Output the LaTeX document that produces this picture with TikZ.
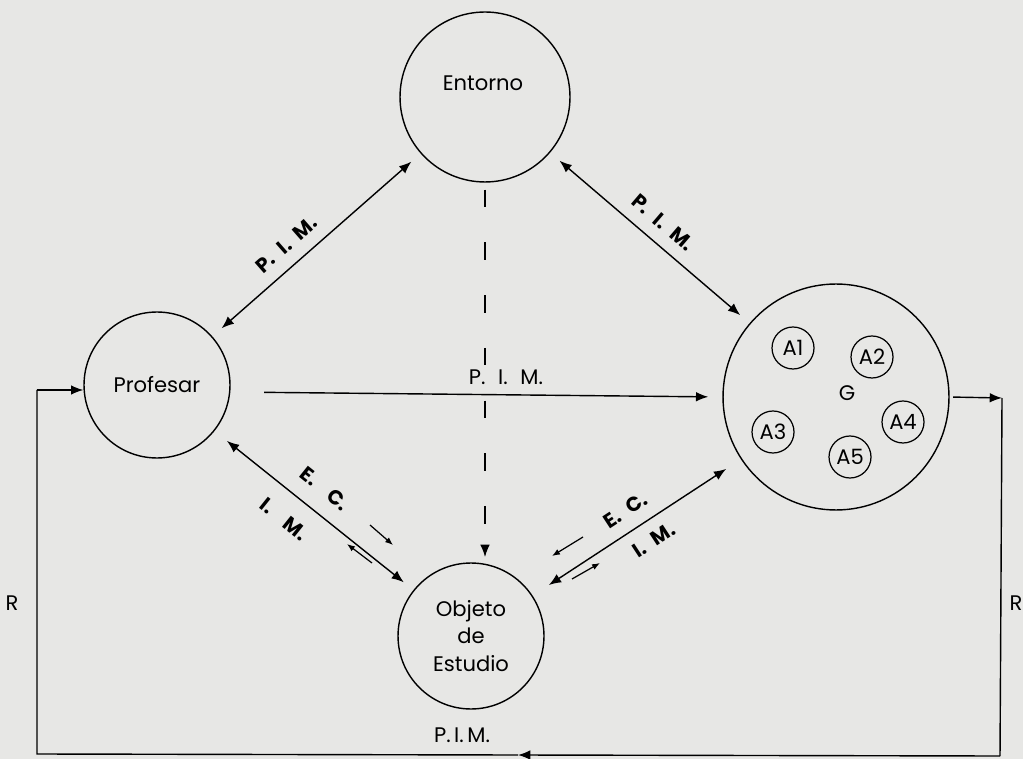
\documentclass[tikz,border=0pt]{standalone}
\usepackage{fontspec}
\setmainfont{Poppins}
\usetikzlibrary{arrows.meta, calc}
\definecolor{papel}{RGB}{231,231,229}
\tikzset{%
    circ/.style={circle, draw, line width=0.8pt, minimum size=2.92cm, inner sep=0pt, align=center},
    sub/.style={circle, draw, line width=0.7pt, minimum size=0.84cm, inner sep=0pt},
    pri/.style={line width=0.8pt},
    pria/.style={line width=0.8pt, -{Latex[length=7pt,width=5.5pt]}},
    prida/.style={line width=0.8pt, {Latex[length=7pt,width=5.5pt]}-{Latex[length=7pt,width=5.5pt]}},
    seca/.style={line width=0.7pt, -{Latex[length=4.5pt,width=3.5pt]}},
    blo/.style={font=\bfseries\fontsize{11.5}{13}\selectfont, inner sep=2pt},
}

\begin{document}
\begin{tikzpicture}[x=0.02cm, y=0.02cm, font=\fontsize{12}{15.6}\selectfont]
    \fill[papel] (0,0) rectangle (1023,-759);
    \useasboundingbox (0,0) rectangle (1023,-759);
    \node[circ, minimum size=3.4cm] (ent) at (485,-97) {};
    \node (entl) at (483,-83) {Entorno};
    \node[circ] (prof) at (157,-385) {Profesar};
    \node[circ] (obj) at (471,-636) {Objeto\\de\\Estudio};
    \node[circ, minimum size=4.52cm] (grupo) at (836,-397) {};
    \node (gl) at (847,-393) {G};
    \node[sub] (a1) at (793,-348) {A1};
    \node[sub] (a2) at (872,-357) {A2};
    \node[sub] (a3) at (773,-432) {A3};
    \node[sub] (a4) at (903,-422) {A4};
    \node[sub] (a5) at (850,-457) {A5};
    \draw[prida, shorten <=7pt, shorten >=7pt] (ent) -- (prof)
        node[blo, pos=0.58, sloped, above=5pt] (pim1) {P.\hspace{.5em}I.\hspace{.5em}M.};
    \draw[prida, shorten <=7pt, shorten >=7pt] (ent) -- (grupo)
        node[blo, pos=0.5, sloped, above=5pt] (pim2) {P.\hspace{.5em}I.\hspace{.5em}M.};
    \draw[pria, shorten <=19pt, shorten >=8pt] ([yshift=-0.14cm]prof.east) -- (grupo.west)
        node[pos=0.56, above=2pt] (pim3) {P.\hspace{.6em}I.\hspace{.6em}M.};
    \draw[pria, dash pattern=on 10pt off 20pt, shorten <=4pt, shorten >=3pt] (ent.south) -- (ent.south |- obj.north);
    \draw[prida, shorten <=9pt, shorten >=7pt] (prof) -- (obj)
        node[blo, pos=0.48, sloped, above=7pt] (ec1) {E.\hspace{.9em}C.}
        node[blo, pos=0.43, sloped, below=8pt] (im1) {I.\hspace{.9em}M.};
    \draw[prida, shorten <=11pt, shorten >=10pt] (obj) -- (grupo)
        node[blo, pos=0.5, sloped, above=5pt] (ec2) {E.\hspace{.5em}C.}
        node[blo, pos=0.53, sloped, below=5pt] (im2) {I.\hspace{.5em}M.};
    \coordinate (s1) at (370,-525);
    \coordinate (s2) at (393,-545);
    \coordinate (s3) at (372,-563);
    \coordinate (s4) at (347,-544);
    \coordinate (s5) at (583,-537);
    \coordinate (s6) at (552,-556);
    \coordinate (s7) at (572,-579);
    \coordinate (s8) at (600,-563);
    \draw[seca] (s1) -- (s2);
    \draw[seca] (s3) -- (s4);
    \draw[seca] (s5) -- (s6);
    \draw[seca] (s7) -- (s8);
    \coordinate (rt) at (1002,-398);
    \coordinate (rb) at (1000,-756);
    \coordinate (bm) at (518,-755);
    \coordinate (lb) at (37,-754);
    \coordinate (lt) at (37,-390);
    \draw[pria, shorten <=2pt] (grupo.east) -- (rt);
    \draw[pri] (rt) -- (rb);
    \draw[pria] (rb) -- (bm);
    \draw[pri] (bm) -- (lb) -- (lt);
    \draw[pria] (lt) -- (lt -| prof.west);
    \node (rl) at (12,-603) {R};
    \node (rr) at (1016,-603) {R};
    \node (pim4) at (462,-735) {P.\,I.\,M.};
\end{tikzpicture}
\end{document}
